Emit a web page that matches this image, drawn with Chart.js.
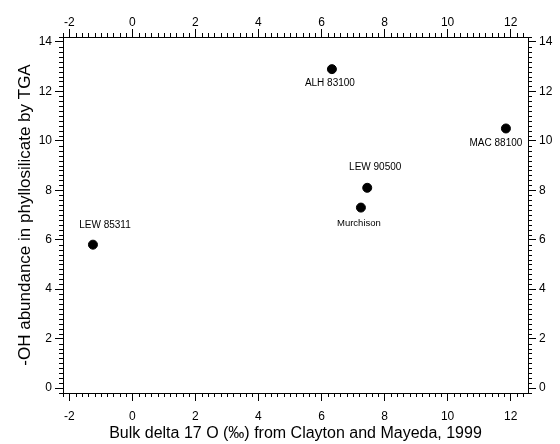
<!DOCTYPE html>
<html>
<head>
<meta charset="utf-8">
<script src="https://cdn.jsdelivr.net/npm/chart.js@4.4.0/dist/chart.umd.min.js"></script>
<style>
  html, body { margin: 0; padding: 0; background: #fff; }
  #wrap { width: 560px; height: 444px; }
</style>
</head>
<body>
<div id="wrap"><canvas id="scatterChart" width="560" height="444"></canvas></div>
<script>
// data
var names = [ "LEW 85311", "ALH 83100", "MAC 88100", "LEW 90500", "Murchison" ];
var delta17O = [ -1.25, 6.33, 11.85, 7.45, 7.25 ];
var ohAbundance = [ 5.8, 12.9, 10.5, 8.1, 7.3 ];
var xTicks = [ -2, 0, 2, 4, 6, 8, 10, 12 ];
var yTicks = [ 0, 2, 4, 6, 8, 10, 12, 14 ];

// label offsets from the point (dx, dy, font size)
var labelPos = [ [ 12, -19, 10 ], [ -2, 14, 10 ], [ -10, 15, 10 ], [ 8, -21, 10 ], [ -2, 16, 9.5 ] ];

var FONT = "'Liberation Sans', Arial, sans-serif";

var minorTicks = {
        id: 'minorTicks',
        afterDraw: function( chart )
        {
                var c = chart.ctx;
                c.save();
                c.strokeStyle = '#000';
                c.lineWidth = 1;
                var sides = [ 'x', 'x2', 'y', 'y2' ];
                sides.forEach( function( id )
                {
                        var s = chart.scales[ id ];
                        var a = chart.chartArea;
                        for ( var i = Math.ceil( s.min/0.2 ); i*0.2 <= s.max+1e-9; i++ )
                        {
                                var v = i*0.2;
                                if ( Math.abs( v/2-Math.round( v/2 ) ) < 1e-6 ) continue;
                                var p = Math.round( s.getPixelForValue( v ) )+0.5;
                                c.beginPath();
                                if ( id === 'x' ) { c.moveTo( p, a.bottom ); c.lineTo( p, a.bottom+4 ); }
                                if ( id === 'x2' ) { c.moveTo( p, a.top ); c.lineTo( p, a.top-4 ); }
                                if ( id === 'y' ) { c.moveTo( a.left, p ); c.lineTo( a.left-4, p ); }
                                if ( id === 'y2' ) { c.moveTo( a.right, p ); c.lineTo( a.right+4, p ); }
                                c.stroke();
                        }
                } );
                c.restore();
        }
};

var pointLabels = {
        id: 'pointLabels',
        afterDatasetsDraw: function( chart )
        {
                var c = chart.ctx;
                var meta = chart.getDatasetMeta( 0 );
                c.save();
                c.fillStyle = '#000';
                c.textAlign = 'center';
                c.textBaseline = 'middle';
                meta.data.forEach( function( pt, i )
                {
                        var lp = labelPos[ i ];
                        c.font = lp[ 2 ]+'px '+FONT;
                        c.fillText( names[ i ], pt.x+lp[ 0 ], pt.y+lp[ 1 ] );
                } );
                c.restore();
        }
};

function axis( pos, ticks, width, pad, extra )
{
        var horiz = pos === 'top' || pos === 'bottom';
        var o = {
                type: 'linear',
                position: pos,
                min: horiz ? -2.2 : -0.2,
                max: horiz ? 12.55 : 14.2,
                afterBuildTicks: function( s ) { s.ticks = ticks.map( function( v ) { return { value: v }; } ); },
                afterFit: function( s ) { if ( horiz ) s.height = width; else s.width = width; },
                border: { display: true, color: '#000', width: 1 },
                grid: { drawOnChartArea: false, drawTicks: true, tickLength: 8, color: '#000', lineWidth: 1 },
                ticks: { color: '#000', font: { family: FONT, size: 12 }, padding: pad, maxRotation: 0 }
        };
        if ( extra ) Object.assign( o, extra );
        return o;
}

var ctx = document.getElementById( 'scatterChart' ).getContext( '2d' );
var scatterChart = new Chart( ctx, {
        type: 'scatter',
        data: {
                datasets: [ {
                        data: delta17O.map( function( x, i ) { return { x: x, y: ohAbundance[ i ] }; } ),
                        backgroundColor: '#000',
                        borderColor: '#000',
                        pointRadius: 4.5,
                        pointHoverRadius: 4.5
                } ]
        },
        options: {
                responsive: false,
                animation: false,
                layout: { padding: 0 },
                plugins: { legend: { display: false }, tooltip: { enabled: false } },
                scales: {
                        x: axis( 'bottom', xTicks, 51, 8, {
                                title: { display: true, text: 'Bulk delta 17 O (‰) from Clayton and Mayeda, 1999', color: '#000', font: { family: FONT, size: 16 }, padding: { top: 0, bottom: 1 } }
                        } ),
                        x2: axis( 'top', xTicks, 37, -1 ),
                        y: axis( 'left', yTicks, 63, 3, {
                                title: { display: true, text: '-OH abundance in phyllosilicate by TGA', color: '#000', font: { family: FONT, size: 17 }, padding: { top: 15, bottom: 0 } }
                        } ),
                        y2: axis( 'right', yTicks, 32, 3 )
                }
        },
        plugins: [ minorTicks, pointLabels ]
} );
</script>
</body>
</html>
